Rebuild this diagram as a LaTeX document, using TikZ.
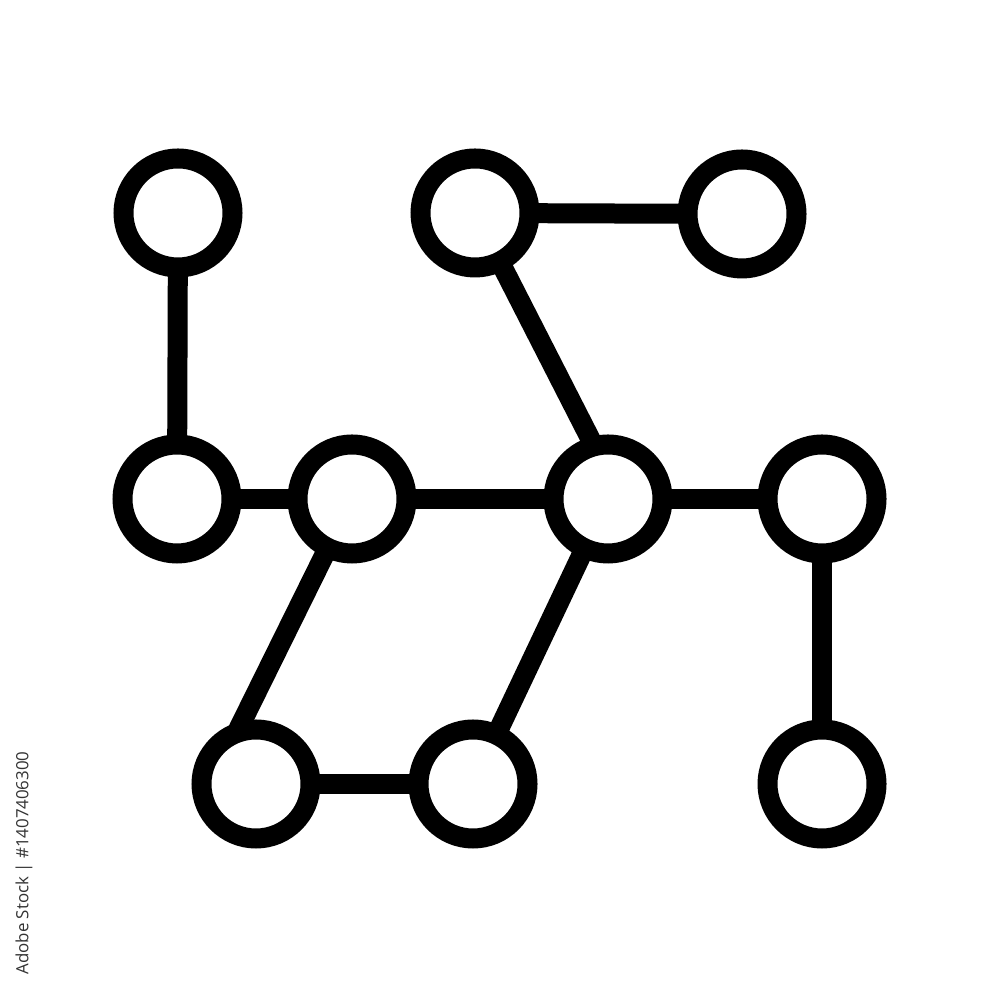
\documentclass[tikz,border=0pt]{standalone}
\usepackage{fontspec}
\newfontfamily\wmfont{Open Sans}
\usetikzlibrary{backgrounds}
\definecolor{wmgray}{HTML}{333333}
\tikzset{
  dot/.style={circle, draw=black, fill=white, line width=0.2cm, minimum size=1.09cm, inner sep=0pt},
  link/.style={draw=black, line width=0.2cm},
  credit/.style={font=\wmfont\fontsize{4.8pt}{5pt}\selectfont, text=wmgray, rotate=90, inner sep=0pt}
}
\begin{document}
\begin{tikzpicture}
\useasboundingbox (0,0) rectangle (10,10);
\node[dot] (A) at (1.78,7.87) {};
\node[dot] (B) at (4.75,7.87) {};
\node[dot] (C) at (7.42,7.86) {};
\node[dot] (D) at (1.77,5.01) {};
\node[dot] (E) at (3.52,5.01) {};
\node[dot] (F) at (6.08,5.01) {};
\node[dot] (G) at (8.22,5.01) {};
\node[dot] (H) at (2.56,2.16) {};
\node[dot] (I) at (4.73,2.16) {};
\node[dot] (J) at (8.22,2.16) {};
\coordinate (h1) at (2.33,2.60);
\coordinate (f1) at (5.96,5.50);
\begin{scope}[on background layer]
\fill[white] (0,0) rectangle (10,10);
\path[link] (A.center) -- (D.center);
\path[link] (B.center) -- (C.center);
\path[link] (B.center) -- (f1);
\path[link] (D.center) -- (E.center);
\path[link] (E.center) -- (F.center);
\path[link] (F.center) -- (G.center);
\path[link] (E.center) -- (h1);
\path[link] (F.center) -- (I.center);
\path[link] (H.center) -- (I.center);
\path[link] (G.center) -- (J.center);
\end{scope}
\node[credit] (cr) at (0.24,1.37) {Adobe Stock | \#1407406300};
\end{tikzpicture}
\end{document}
